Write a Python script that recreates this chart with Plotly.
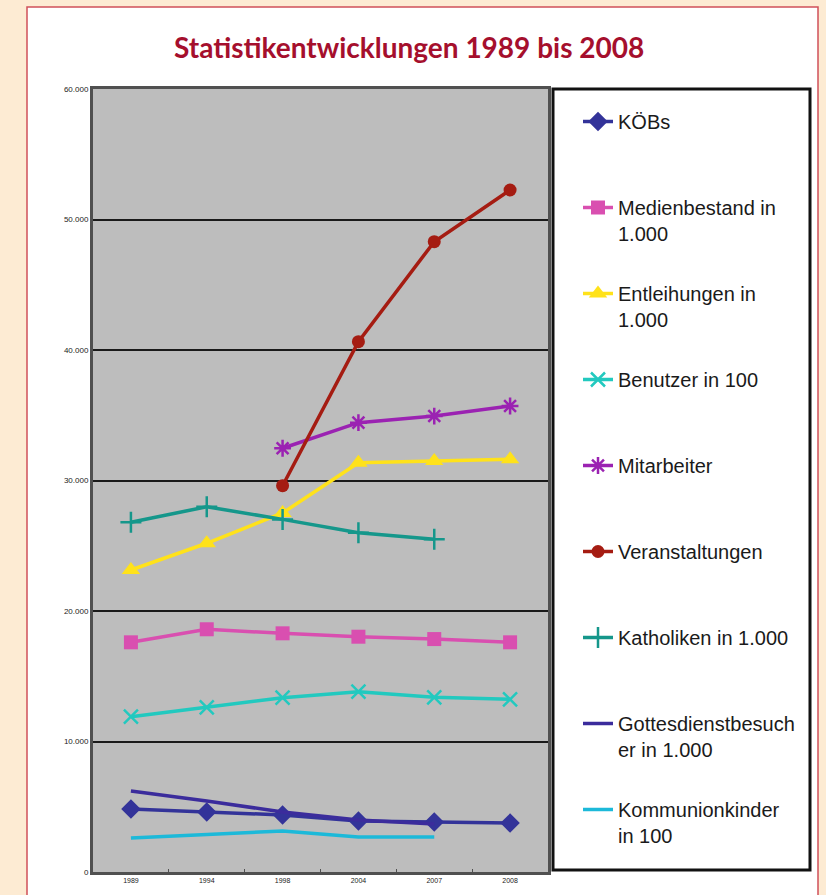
import plotly.graph_objects as go

years = ["1989", "1994", "1998", "2004", "2007", "2008"]
koebs = [4830, 4600, 4370, 3910, 3830, 3750]
medien = [17600, 18600, 18290, 18030, 17850, 17600]
entleih = [23140, 25190, 27510, 31360, 31490, 31620]
benutzer = [11900, 12620, 13360, 13820, 13390, 13230]
mitarbeiter = [None, None, 32470, 34430, 34940, 35710]
veranst = [None, None, 29600, 40640, 48300, 52260]
katholiken = [26800, 27990, 27020, 26000, 25490, None]
gottesd = [6200, 5440, 4600, 3980, 3680, None]
kommunion = [2600, 2900, 3140, 2680, 2680, None]

y_tickvals = [0, 10000, 20000, 30000, 40000, 50000, 60000]
y_ticktext = ["0", "10.000", "20.000", "30.000", "40.000", "50.000", "60.000"]

NB = "<br>\u00a0"
series = [
    ("KÖBs" + NB, koebs, "#333399", "lines+markers", dict(symbol="diamond", size=15)),
    ("Medienbestand in<br>1.000", medien, "#d94fb0", "lines+markers", dict(symbol="square", size=14)),
    ("Entleihungen in<br>1.000", entleih, "#ffe21a", "lines+markers", dict(symbol="triangle-up", size=16)),
    ("Benutzer in 100" + NB, benutzer, "#22c9bf", "lines+markers", dict(symbol="x-thin-open", size=14, line=dict(width=2.5))),
    ("Mitarbeiter" + NB, mitarbeiter, "#9b22b2", "lines+markers", dict(symbol="asterisk-open", size=14, line=dict(width=2.5))),
    ("Veranstaltungen" + NB, veranst, "#a51c12", "lines+markers", dict(symbol="circle", size=13)),
    ("Katholiken in 1.000" + NB, katholiken, "#15978b", "lines+markers", dict(symbol="cross-thin-open", size=15, line=dict(width=2.5))),
    ("Gottesdienstbesuch<br>er in 1.000", gottesd, "#3b2c9c", "lines", None),
    ("Kommunionkinder<br>in 100", kommunion, "#1cb9d9", "lines", None),
]

fig = go.Figure()
for i, (name, vals, col, mode, mk) in enumerate(series):
    kw = dict(x=years, y=vals, name=name, mode=mode, legendgroup=f"g{i}",
              line=dict(color=col, width=3.5), connectgaps=False)
    if mk:
        mk = dict(mk)
        mk["color"] = col
        kw["marker"] = mk
    fig.add_trace(go.Scatter(**kw))

def px_x(px):
    return (px - 93) / 455.0

def px_y(py):
    return (872 - py) / 783.0

shapes = [
    dict(type="rect", xref="paper", yref="paper", layer="below",
         x0=px_x(27), x1=px_x(818), y0=px_y(910), y1=px_y(7),
         fillcolor="white", line=dict(color="#d0505a", width=1.5)),
    dict(type="rect", xref="paper", yref="paper", layer="below",
         x0=0, x1=1, y0=0, y1=1, fillcolor="#bdbdbd", line=dict(width=0)),
    dict(type="rect", xref="paper", yref="paper", layer="below",
         x0=px_x(553), x1=px_x(810), y0=px_y(870), y1=px_y(89),
         fillcolor="white", line=dict(color="#111111", width=3)),
]

fig.update_layout(
    width=826, height=895,
    margin=dict(l=93, r=278, t=89, b=23),
    paper_bgcolor="#fdebd3",
    plot_bgcolor="rgba(0,0,0,0)",
    shapes=shapes,
    showlegend=True,
    legend=dict(x=px_x(578), xanchor="left", y=px_y(102), yanchor="top",
                bgcolor="rgba(0,0,0,0)", borderwidth=0,
                font=dict(family="Liberation Sans, Arial", size=20, color="#1a1a1a"),
                traceorder="grouped", tracegroupgap=31, valign="top"),
    annotations=[dict(text="<b>Statistikentwicklungen 1989 bis 2008</b>", xref="paper", yref="paper",
                      x=px_x(409), y=px_y(47), xanchor="center", yanchor="middle", showarrow=False,
                      font=dict(family="Lato, Open Sans", size=28, color="#a50f2d"))],
    xaxis=dict(type="category", showgrid=False, showline=True, linecolor="#505050", linewidth=3,
               mirror=True, ticks="inside", ticklen=3, tickcolor="#505050", tickson="boundaries",
               range=[-0.5, 5.5], tickfont=dict(family="Liberation Sans, Arial", size=7, color="#222222"),
               zeroline=False),
    yaxis=dict(range=[0, 60000], tickvals=y_tickvals, ticktext=y_ticktext, showgrid=True,
               gridcolor="#1a1a1a", gridwidth=2, showline=True, linecolor="#505050", linewidth=3,
               mirror=True, zeroline=False, ticks="",
               tickfont=dict(family="Liberation Sans, Arial", size=8, color="#222222")),
)

fig.write_html("out.html", config={"displayModeBar": False},
               post_script="document.body.style.margin='0';document.body.style.background='#fdebd3';")
